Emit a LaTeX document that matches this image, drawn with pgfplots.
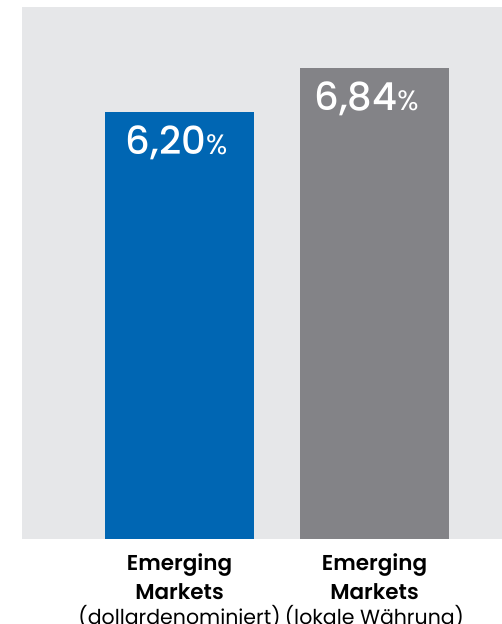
\documentclass[border=0pt]{standalone}
\usepackage{fontspec}
\setmainfont{Poppins}[BoldFont={Poppins SemiBold}]
\newfontfamily\numfont{Poppins Medium}
\usepackage{pgfplots}
\pgfplotsset{compat=1.18}
\definecolor{bgc}{RGB}{230,231,233}
\definecolor{blu}{RGB}{0,102,179}
\definecolor{gry}{RGB}{131,131,135}
\begin{document}
\begin{tikzpicture}
\begin{axis}[name=ax, anchor=south west, width=480pt, height=532pt, scale only axis,
  xmin=-0.808, xmax=1.654, ymin=0, ymax=7.73,
  axis background/.style={fill=bgc},
  axis line style={draw=none},
  ytick=\empty, xtick={0,1}, major tick length=0pt,
  xticklabels={{\textbf{Emerging}\\[5pt]\textbf{Markets}\\[1pt]{\fontsize{20.5}{24}\selectfont(dollardenominiert)}},{\textbf{Emerging}\\[5pt]\textbf{Markets}\\[1pt]{\fontsize{20.5}{24}\selectfont(lokale Währung)}}},
  xticklabel style={align=center, anchor=north, inner sep=0pt, yshift=-14pt, font=\fontsize{21.5}{24}\selectfont, text=black},
  ybar, bar width=0.764, bar shift=0pt,
  clip=false,
  point meta=explicit symbolic,
  nodes near coords={{\numfont\fontsize{38.5}{38.5}\selectfont\pgfplotspointmeta}{\fontsize{28}{28}\selectfont\%}},
  every node near coord/.append style={anchor=base, yshift=-42pt, text=white, inner sep=0pt},
]
\addplot[fill=blu, draw=none, every node near coord/.append style={xshift=-3pt}] coordinates {(0,6.20) [6,20]};
\addplot[fill=gry, draw=none, every node near coord/.append style={xshift=-8pt}] coordinates {(1,6.84) [6,84]};
\end{axis}
\pgfresetboundingbox
\path[use as bounding box] (ax.south west) ++(-22pt,-85pt) rectangle ++(502pt,624pt);
\end{tikzpicture}
\end{document}
